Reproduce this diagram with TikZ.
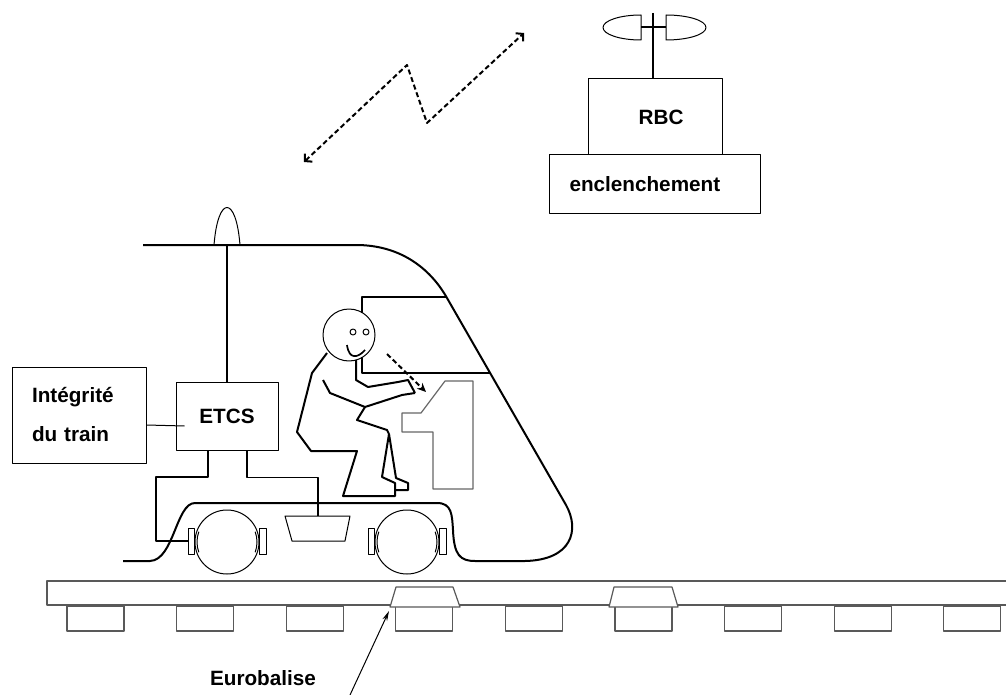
\documentclass[tikz,border=0pt]{standalone}
\usepackage{fontspec}
\setmainfont{Liberation Sans}
\usetikzlibrary{arrows.meta}

\tikzset{
  box/.style={draw, line width=1pt, inner sep=0pt, font=\bfseries\fontsize{20.7}{39}\selectfont},
  label/.style={inner sep=0pt, font=\bfseries\fontsize{20.7}{39}\selectfont},
  body/.style={line width=2pt},
  wire/.style={line width=1.7pt},
  thin/.style={line width=1pt},
  rail/.style={draw=black!65, line width=1.2pt},
  desk/.style={draw=black!60, line width=1.2pt},
  link/.style={line width=2pt, dash pattern=on 5pt off 3pt},
}

\begin{document}
\begin{tikzpicture}[x=1pt,y=-1pt,line join=round]
    \useasboundingbox (0,0) rectangle (1006,695);

    \draw[link, {Straight Barb[length=5pt,width=11pt]}-{Straight Barb[length=5pt,width=11pt]}] (304,162) -- (407,65) -- (427,123) -- (524,33);

    \node[box, minimum width=134, minimum height=76, text width=57, align=right] (rbc) at (655,117) {RBC};
    \node[box, minimum width=211, minimum height=58, text width=170, align=left] (encl) at (654.5,184) {enclenchement};
    \coordinate (mast) at (653,13);
    \draw[wire] (mast) -- (mast |- rbc.north);
    \draw[wire] (641,27) -- (666,27);
    \draw[thin] (641,15) arc[start angle=270, end angle=90, x radius=38, y radius=12.5] -- cycle;
    \draw[thin] (666,15) arc[start angle=-90, end angle=90, x radius=40, y radius=12.5] -- cycle;

    \node[box, minimum width=102, minimum height=68] (etcs) at (227,416) {ETCS};
    \node[box, minimum width=134, minimum height=96, text width=94, align=left] (integ) at (79,415) {Intégrité\\du train};

    \draw[body] (143,245) -- (356,245) .. controls (400,245) and (430,268) .. (447,298)
      -- (566,505) .. controls (580,530) and (572,560) .. (525,561) -- (475,561)
      .. controls (460,561) and (454,555) .. (453,530) .. controls (452,515) and (452,503) .. (437,503)
      -- (195,503) .. controls (176,503) and (174,560) .. (150,561) -- (123,561);
    \draw[thin] (214,245) .. controls (218,195) and (236,195) .. (240,245);
    \draw[wire] (227,245) -- (etcs.north);
    \draw[body] (447,297) -- (362,297) -- (362,373) -- (491,373);

    \draw[desk] (445,381) -- (473,381) -- (473,489) -- (433,489) -- (433,432) -- (402,432)
      -- (402,413) -- (421,413) -- cycle;

    \node[draw, thin, fill=white, circle, minimum size=52, inner sep=0pt] (head) at (349,335) {};
    \draw[thin] (353,332) circle[radius=3] (366,332) circle[radius=3];
    \draw[wire] (347,345) .. controls (349,360) and (358,358) .. (365,350);
    \draw[body] (327,353) -- (312,373) -- (297,432) -- (311,451) -- (357,451) -- (343,496)
      -- (395,496) -- (395,483) -- (382,477) -- (389,434);
    \draw[body] (389,434) -- (396,478) -- (408,483) -- (408,490) -- (395,490);
    \draw[body] (365,407) -- (357,420) -- (387,430) -- (389,434);
    \draw[body] (323,380) -- (330,393) -- (365,407) -- (402,395) -- (415,393);
    \draw[body] (356,360) -- (356,380) -- (368,387) -- (398,382) -- (408,380) -- (415,393);
    \draw[link, -{Stealth[length=9pt,width=8pt,inset=3pt]}] (387,354) -- (426,392);

    \foreach \cx/\nm in {227/A,407/B} {
      \draw[thin, fill=white] (\cx,542) circle[radius=32];
      \draw[thin] (\cx,542) ++(160:30) arc[start angle=160, end angle=200, radius=30];
      \draw[thin] (\cx,542) ++(-20:30) arc[start angle=-20, end angle=20, radius=30];
      \node[draw, thin, fill=white, minimum width=6.5, minimum height=26, inner sep=0pt] (ax\nm l) at (\cx-35.5,541) {};
      \node[draw, thin, fill=white, minimum width=6.5, minimum height=26, inner sep=0pt] (ax\nm r) at (\cx+36,541) {};
    }
    \draw[thin] (285,516) -- (350,516) -- (345,541) -- (292,541) -- cycle;
    \coordinate (pad) at (318,516);

    \draw[wire] ([xshift=-19pt]etcs.south) |- (156,477) |- (axAl.west);
    \draw[wire] ([xshift=20pt]etcs.south) -- ++(0,27) -| (pad);
    \draw[thin] ([yshift=-10pt]integ.east) -- ([yshift=-10pt,xshift=9pt]etcs.west);

    \draw[rail] (1006,581) -- (47,581) -- (47,605) -- (1006,605);
    \foreach \i in {0,...,8}
      \draw[rail] (67+109.6*\i,606) rectangle ++(57,25);
    \draw[rail, fill=white] (390,607) -- (396,587) -- (453,587) -- (460,607) -- cycle;
    \draw[rail, fill=white] (609,607) -- (614,587) -- (672,587) -- (678,607) -- cycle;

    \node[label] (euro) at (263,678) {Eurobalise};
    \coordinate (foot) at (350,695);
    \coordinate (bal) at (389,611);
    \draw[thin, -{Stealth[length=10pt,width=5pt]}] (foot) -- (bal);
\end{tikzpicture}
\end{document}
